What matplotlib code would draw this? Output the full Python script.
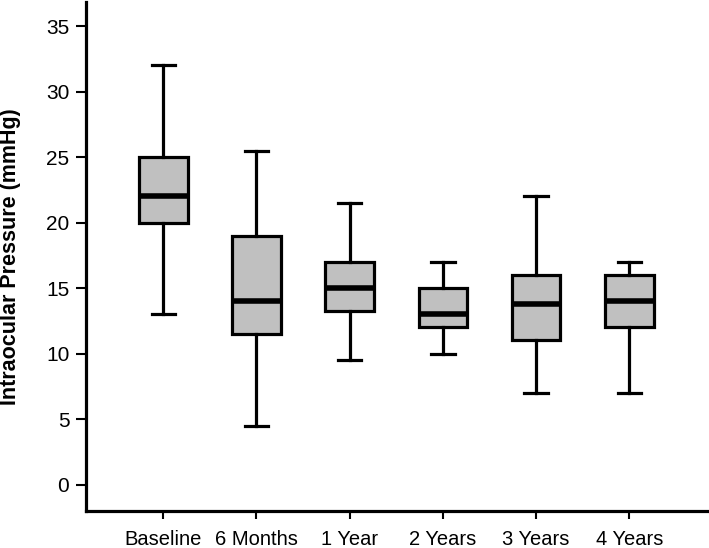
import matplotlib
matplotlib.use("Agg")
import matplotlib.pyplot as plt

categories = ["Baseline", "6 Months", "1 Year", "2 Years", "3 Years", "4 Years"]
whisker_low = [13, 4.5, 9.5, 10, 7, 7]
q1 = [20, 11.5, 13.25, 12, 11, 12]
median = [22, 14, 15, 13, 13.8, 14]
q3 = [25, 19, 17, 15, 16, 16]
whisker_high = [32, 25.5, 21.5, 17, 22, 17]
y_ticks = [0, 5, 10, 15, 20, 25, 30, 35]

plt.rcParams['font.family'] = ['Liberation Sans', 'DejaVu Sans']

fig = plt.figure(figsize=(7.09, 5.48), dpi=100)
ax = fig.add_axes([86/709, 1 - 510.7/548, (706.7-86)/709, (510.7-2)/548])

stats = []
for i, c in enumerate(categories):
    stats.append(dict(label=c, whislo=whisker_low[i], q1=q1[i], med=median[i],
                      q3=q3[i], whishi=whisker_high[i], fliers=[]))

ax.bxp(stats, positions=range(1, len(categories) + 1), widths=0.52,
       patch_artist=True, showfliers=False,
       boxprops=dict(facecolor='#c0c0c0', edgecolor='black', linewidth=2.3),
       medianprops=dict(color='black', linewidth=4.0, solid_capstyle='butt'),
       whiskerprops=dict(color='black', linewidth=2.3),
       capprops=dict(color='black', linewidth=2.3),
       capwidths=0.25)

ax.set_xlim(0.171, 6.83)
ax.set_ylim(-2, 36.84)
ax.set_yticks(y_ticks)
ax.set_xticks(range(1, len(categories) + 1))
ax.set_xticklabels(categories)

for s in ['top', 'right']:
    ax.spines[s].set_visible(False)
for s in ['left', 'bottom']:
    ax.spines[s].set_linewidth(2.3)
    ax.spines[s].set_color('black')

ax.tick_params(axis='y', labelsize=15, length=7, width=1.5, pad=5, colors='black')
ax.tick_params(axis='x', labelsize=14.5, length=6, width=1.5, pad=8, colors='black')
ax.set_ylabel("Intraocular Pressure (mmHg)", fontsize=15.5, fontweight='bold', labelpad=18)

fig.savefig("out.png", dpi=100)
